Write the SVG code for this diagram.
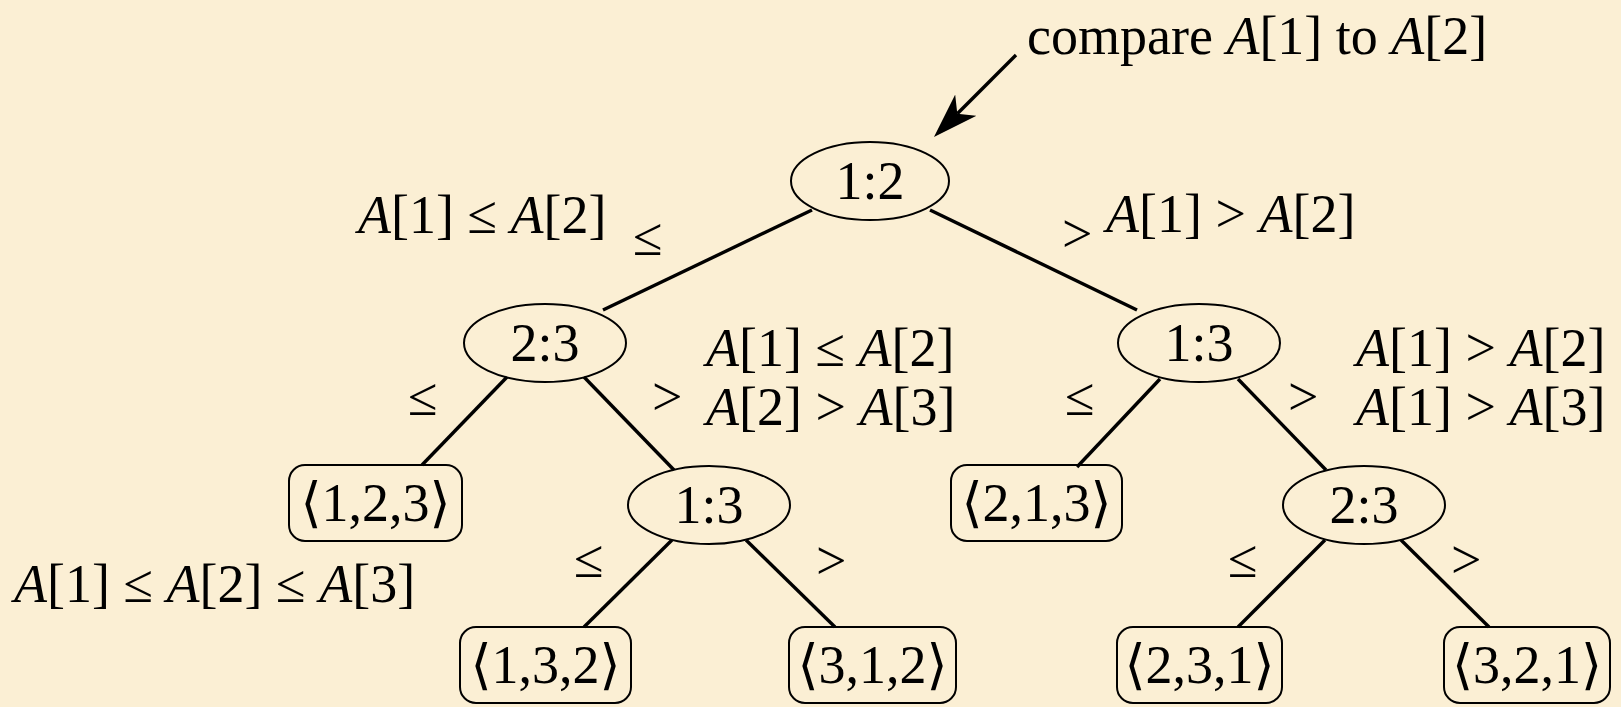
<svg xmlns="http://www.w3.org/2000/svg" width="1621" height="707" viewBox="0 0 1621 707">
<defs>
<style>
.bg{fill:#FBEFD4}
.node{fill:none;stroke:#000;stroke-width:2}
.edge{stroke:#000;stroke-width:3.4;fill:none}
text{font-family:"Liberation Serif","DejaVu Serif",serif;font-size:54px;fill:#000}
.c{text-anchor:middle}
.i{font-style:italic}
</style>
<marker id="arr" viewBox="0 0 45 30" refX="12" refY="15" markerWidth="45" markerHeight="30" markerUnits="userSpaceOnUse" orient="auto">
<path d="M0,0 L45,15 L0,30 L12,15 Z" fill="#000"/>
</marker>
</defs>
<rect class="bg" x="0" y="0" width="1621" height="707"/>
<g id="connectors">
<line class="edge" x1="1016" y1="55" x2="957.3" y2="113.7" marker-end="url(#arr)"/>
<line class="edge" x1="812" y1="210" x2="603" y2="310"/>
<line class="edge" x1="930" y1="210" x2="1137" y2="310"/>
<line class="edge" x1="507" y1="377" x2="422" y2="465"/>
<line class="edge" x1="584" y1="377" x2="674" y2="470"/>
<line class="edge" x1="1160" y1="379" x2="1077" y2="467"/>
<line class="edge" x1="1238" y1="379" x2="1326" y2="470"/>
<line class="edge" x1="672" y1="540" x2="584" y2="627"/>
<line class="edge" x1="746" y1="540" x2="835" y2="627"/>
<line class="edge" x1="1325" y1="540" x2="1238" y2="627"/>
<line class="edge" x1="1401" y1="540" x2="1489" y2="627"/>
</g>
<g id="labels">
<text x="1027" y="54">compare <tspan class="i">A</tspan>[1] to <tspan class="i">A</tspan>[2]</text>
<text x="358" y="233"><tspan class="i">A</tspan>[1] ≤ <tspan class="i">A</tspan>[2]</text>
<text x="633" y="255">≤</text>
<text x="1062" y="252">&gt;</text>
<text x="1106" y="232"><tspan class="i">A</tspan>[1] &gt; <tspan class="i">A</tspan>[2]</text>
<text x="408" y="415">≤</text>
<text x="652" y="415">&gt;</text>
<text x="706" y="366"><tspan class="i">A</tspan>[1] ≤ <tspan class="i">A</tspan>[2]</text>
<text x="706" y="425"><tspan class="i">A</tspan>[2] &gt; <tspan class="i">A</tspan>[3]</text>
<text x="1065" y="415">≤</text>
<text x="1288" y="415">&gt;</text>
<text x="1356" y="366"><tspan class="i">A</tspan>[1] &gt; <tspan class="i">A</tspan>[2]</text>
<text x="1356" y="425"><tspan class="i">A</tspan>[1] &gt; <tspan class="i">A</tspan>[3]</text>
<text x="574" y="577">≤</text>
<text x="816" y="579">&gt;</text>
<text x="14" y="602"><tspan class="i">A</tspan>[1] ≤ <tspan class="i">A</tspan>[2] ≤ <tspan class="i">A</tspan>[3]</text>
<text x="1228" y="577">≤</text>
<text x="1451" y="578">&gt;</text>
</g>
<g id="n12"><ellipse class="node" cx="870" cy="181" rx="79" ry="39"/><text class="c" x="870" y="199">1:2</text></g>
<g id="n23a"><ellipse class="node" cx="545" cy="343" rx="81" ry="39"/><text class="c" x="545" y="361">2:3</text></g>
<g id="n13b"><ellipse class="node" cx="1199" cy="343" rx="81" ry="39"/><text class="c" x="1199" y="361">1:3</text></g>
<g id="n13a"><ellipse class="node" cx="709" cy="505" rx="81" ry="39"/><text class="c" x="709" y="523">1:3</text></g>
<g id="n23b"><ellipse class="node" cx="1364" cy="505" rx="81" ry="39"/><text class="c" x="1364" y="523">2:3</text></g>
<g id="l123"><rect class="node" x="289" y="465" width="173" height="76" rx="16"/><text class="c" x="375.5" y="521">⟨1,2,3⟩</text></g>
<g id="l213"><rect class="node" x="951" y="465" width="171" height="76" rx="16"/><text class="c" x="1036.5" y="521">⟨2,1,3⟩</text></g>
<g id="l132"><rect class="node" x="460" y="627" width="171" height="76" rx="16"/><text class="c" x="545.5" y="683">⟨1,3,2⟩</text></g>
<g id="l312"><rect class="node" x="789" y="627" width="167" height="76" rx="16"/><text class="c" x="872.5" y="683">⟨3,1,2⟩</text></g>
<g id="l231"><rect class="node" x="1117" y="627" width="165" height="76" rx="16"/><text class="c" x="1199.5" y="683">⟨2,3,1⟩</text></g>
<g id="l321"><rect class="node" x="1444" y="627" width="166" height="76" rx="16"/><text class="c" x="1527" y="683">⟨3,2,1⟩</text></g>
</svg>
